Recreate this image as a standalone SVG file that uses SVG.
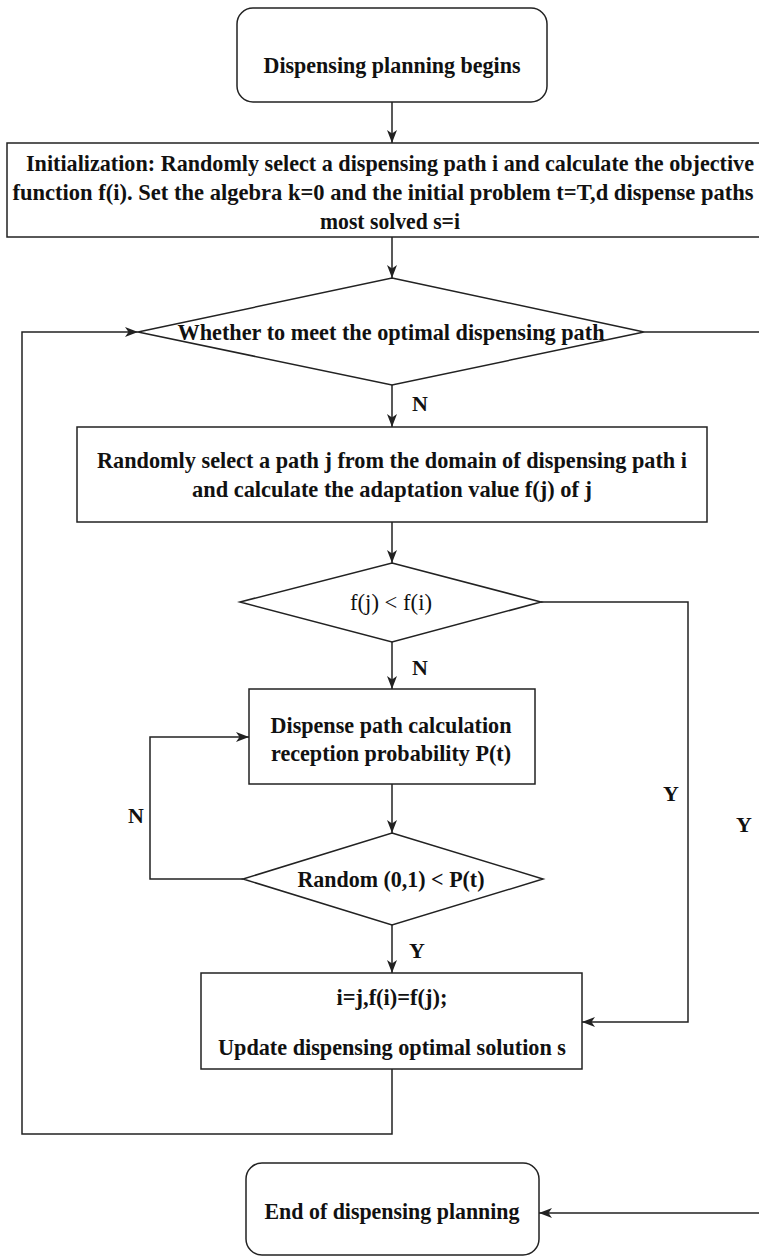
<svg xmlns="http://www.w3.org/2000/svg" width="759" height="1256" viewBox="0 0 759 1256">
<style>
.box{fill:#fff;stroke:#222;stroke-width:1.5}
.ln{fill:none;stroke:#222;stroke-width:1.5}
text{font-family:"Liberation Serif","Times New Roman",serif;font-weight:bold;font-size:23px;fill:#111;text-anchor:middle}
.lbl{font-size:22px}
.reg{font-weight:normal}
</style>
<defs>
<marker id="arr" markerUnits="userSpaceOnUse" markerWidth="13" markerHeight="10" refX="13" refY="5" orient="auto">
<path d="M0,0 L13,5 L0,10 L3.5,5 z" fill="#222"/>
</marker>
</defs>
<rect width="759" height="1256" fill="#fff"/>
<g id="connectors">
<line class="ln" x1="392" y1="102" x2="392" y2="143" marker-end="url(#arr)"/>
<line class="ln" x1="392" y1="237" x2="392" y2="278" marker-end="url(#arr)"/>
<line class="ln" x1="392" y1="385" x2="392" y2="427" marker-end="url(#arr)"/>
<line class="ln" x1="392" y1="522" x2="392" y2="563" marker-end="url(#arr)"/>
<line class="ln" x1="392" y1="642" x2="392" y2="689" marker-end="url(#arr)"/>
<line class="ln" x1="392" y1="784" x2="392" y2="833" marker-end="url(#arr)"/>
<line class="ln" x1="392" y1="925" x2="392" y2="973" marker-end="url(#arr)"/>
<polyline class="ln" points="541,602 688,602 688,1022 582,1022" marker-end="url(#arr)"/>
<polyline class="ln" points="243,879 150,879 150,737 249,737" marker-end="url(#arr)"/>
<polyline class="ln" points="392,1069 392,1134 22,1134 22,332 138,332" marker-end="url(#arr)"/>
<polyline class="ln" points="644,332 775,332 775,1213 539,1213" marker-end="url(#arr)"/>
<text class="lbl" x="420" y="411">N</text>
<text class="lbl" x="420" y="675">N</text>
<text class="lbl" x="417" y="958">Y</text>
<text class="lbl" x="136" y="823">N</text>
<text class="lbl" x="671" y="801">Y</text>
<text class="lbl" x="744" y="832">Y</text>
</g>
<g id="start">
<rect class="box" x="237" y="8" width="310" height="94" rx="16"/>
<text x="392" y="73" textLength="257" lengthAdjust="spacingAndGlyphs">Dispensing planning begins</text>
</g>
<g id="init">
<rect class="box" x="7" y="143" width="790" height="94"/>
<text x="390" y="171" textLength="728" lengthAdjust="spacingAndGlyphs">Initialization: Randomly select a dispensing path i and calculate the objective</text>
<text x="383" y="200" textLength="741" lengthAdjust="spacingAndGlyphs">function f(i). Set the algebra k=0 and the initial problem t=T,d dispense paths</text>
<text x="390" y="229" textLength="140" lengthAdjust="spacingAndGlyphs">most solved s=i</text>
</g>
<g id="check-optimal">
<polygon class="box" points="392,278 644,332 392,385 138,332"/>
<text x="391" y="340" textLength="427" lengthAdjust="spacingAndGlyphs">Whether to meet the optimal dispensing path</text>
</g>
<g id="select-j">
<rect class="box" x="77" y="427" width="630" height="95"/>
<text x="392" y="468" textLength="590" lengthAdjust="spacingAndGlyphs">Randomly select a path j from the domain of dispensing path i</text>
<text x="392" y="497" textLength="400" lengthAdjust="spacingAndGlyphs">and calculate the adaptation value f(j) of j</text>
</g>
<g id="compare">
<polygon class="box" points="392,563 541,602 392,642 240,602"/>
<text class="reg" x="391" y="610" textLength="82" lengthAdjust="spacingAndGlyphs">f(j) &lt; f(i)</text>
</g>
<g id="probability">
<rect class="box" x="249" y="689" width="286" height="95"/>
<text x="391" y="733" textLength="241" lengthAdjust="spacingAndGlyphs">Dispense path calculation</text>
<text x="391" y="761" textLength="240" lengthAdjust="spacingAndGlyphs">reception probability P(t)</text>
</g>
<g id="random">
<polygon class="box" points="392,833 543,879 392,925 243,879"/>
<text x="391" y="887" textLength="187" lengthAdjust="spacingAndGlyphs">Random (0,1) &lt; P(t)</text>
</g>
<g id="update">
<rect class="box" x="201" y="973" width="381" height="96"/>
<text x="392" y="1005" textLength="111" lengthAdjust="spacingAndGlyphs">i=j,f(i)=f(j);</text>
<text x="392" y="1055" textLength="348" lengthAdjust="spacingAndGlyphs">Update dispensing optimal solution s</text>
</g>
<g id="end">
<rect class="box" x="246" y="1163" width="293" height="92" rx="16"/>
<text x="392" y="1219" textLength="255" lengthAdjust="spacingAndGlyphs">End of dispensing planning</text>
</g>
</svg>
